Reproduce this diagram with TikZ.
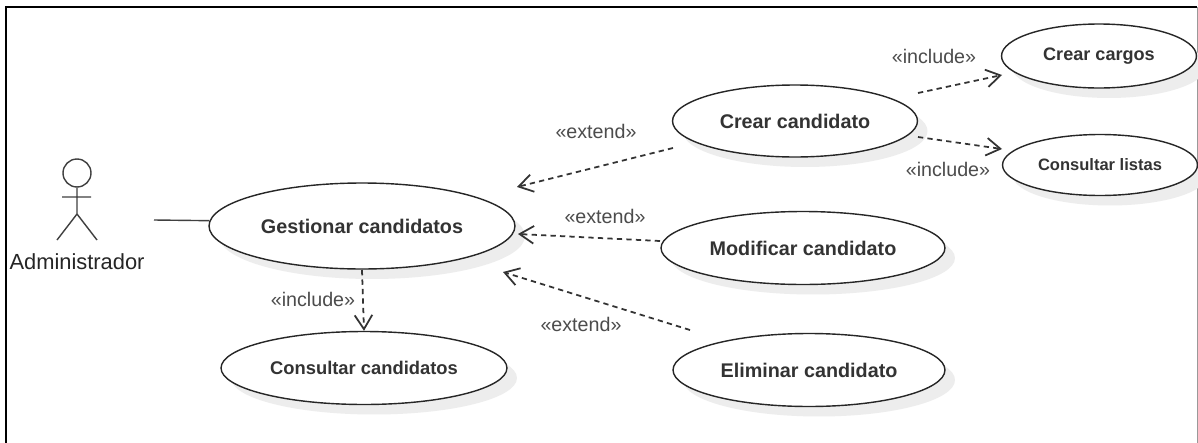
\documentclass[tikz,border=0pt]{standalone}
\usepackage{fontspec}
\setmainfont{Liberation Sans}
\usetikzlibrary{arrows.meta,shadows,shapes.geometric}

\tikzset{
  usecase/.style={draw=black!85, thick, ellipse, fill=white, inner sep=0pt,
    drop shadow={shadow xshift=0.2cm, shadow yshift=-0.2cm, fill=black!7, opacity=1}},
  casetext/.style={font=\fontsize{11.25}{13}\selectfont\bfseries, text=black!80},
  stereo/.style={font=\fontsize{11.2}{13}\selectfont, text=black!70},
  dep/.style={line width=1pt, dash pattern=on 3pt off 2.4pt, black!80, -{Straight Barb[length=8pt,width=10pt]}},
  figure/.style={thick, black!75}
}

\begin{document}
\begin{tikzpicture}[x=0.02cm, y=-0.02cm]
  \useasboundingbox (0,0) rectangle (1198,443);
  \fill[white] (0,0) rectangle (1198,443);
  % frame
  \draw[line width=1.6pt] (6,443) -- (6,7) -- (1197,7);
  \draw[black!40] (1197,7) -- (1197,443);

  % use cases
  \node[usecase, casetext, minimum width=6.12cm, minimum height=1.72cm] (gestionar) at (362,226) {Gestionar candidatos};
  \node[usecase, casetext, minimum width=4.9cm, minimum height=1.44cm] (crear) at (795,121) {Crear candidato};
  \node[usecase, casetext, font=\fontsize{10.3}{12}\selectfont\bfseries, minimum width=3.9cm, minimum height=1.28cm] (cargos) at (1099,56) {Crear cargos};
  \node[usecase, casetext, font=\fontsize{9.4}{11}\selectfont\bfseries, minimum width=3.9cm, minimum height=1.22cm] (listas) at (1100,165) {Consultar listas};
  \node[usecase, casetext, minimum width=5.68cm, minimum height=1.46cm] (modificar) at (803,248) {Modificar candidato};
  \node[usecase, casetext, minimum width=5.44cm, minimum height=1.46cm] (eliminar) at (809,370) {Eliminar candidato};
  \node[usecase, casetext, font=\fontsize{10.45}{12}\selectfont\bfseries, minimum width=5.72cm, minimum height=1.46cm] (consultar) at (364,368) {Consultar candidatos};

  % actor
  \node[draw, figure, circle, minimum size=0.56cm, inner sep=0pt] (head) at (77,173) {};
  \coordinate (hip) at (77,214);
  \coordinate (handl) at (62,197);
  \coordinate (handr) at (91,197);
  \coordinate (footl) at (57,240);
  \coordinate (footr) at (97,240);
  \draw[figure] (head) -- (hip) (handl) -- (handr) (footl) -- (hip) -- (footr);
  \node[font=\fontsize{12.45}{14}\selectfont, text=black!85] (admin) at (77,262) {Administrador};
  \coordinate (actorend) at (154,220);
  \draw[thick, black!75] (actorend) -- (gestionar.178);

  % dependencies
  \coordinate (crearout) at (673,148);
  \coordinate (crearin) at (517,187);
  \coordinate (modout) at (660,241);
  \coordinate (modin) at (518,234);
  \coordinate (elimout) at (690,330);
  \coordinate (elimin) at (503,272);
  \coordinate (inclout) at (362,270);
  \coordinate (cargosout) at (918,93);
  \coordinate (cargosin) at (1002,75);
  \coordinate (listasout) at (918,137);
  \coordinate (listasin) at (1002,149);
  \draw[dep] (crearout) -- (crearin);
  \draw[dep] (modout) -- (modin);
  \draw[dep] (elimout) -- (elimin);
  \draw[dep] (inclout) -- (consultar.north);
  \draw[dep] (cargosout) -- (cargosin);
  \draw[dep] (listasout) -- (listasin);

  % stereotypes
  \node[stereo] (ext1) at (596,131) {«extend»};
  \node[stereo] (ext2) at (605,216) {«extend»};
  \node[stereo] (ext3) at (581,324) {«extend»};
  \node[stereo] (inc1) at (313,299) {«include»};
  \node[stereo] (inc2) at (934,56) {«include»};
  \node[stereo] (inc3) at (948,169) {«include»};
\end{tikzpicture}
\end{document}
